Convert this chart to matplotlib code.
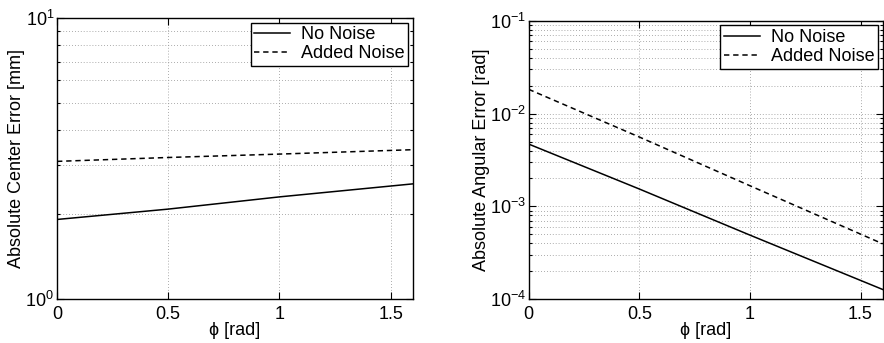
#!/usr/bin/env python3
"""Center and angular error versus phi, with and without added noise."""

import matplotlib as mpl
mpl.use("Agg")
import matplotlib.pyplot as plt
from matplotlib.ticker import LogLocator, NullFormatter

# values
PHI = [0.0, 0.5, 1.0, 1.6]
CENTER_NO_NOISE = [1.92, 2.09, 2.31, 2.57]
CENTER_NOISE = [3.09, 3.19, 3.28, 3.40]
ANGLE_NO_NOISE = [4.7e-3, 1.54e-3, 4.9e-4, 1.27e-4]
ANGLE_NOISE = [1.83e-2, 5.6e-3, 1.67e-3, 3.95e-4]
LABELS = ["No Noise", "Added Noise"]

plt.rcParams.update({
    "font.family": ["Liberation Sans", "DejaVu Sans"],
    "font.size": 13,
    "mathtext.fontset": "custom",
    "mathtext.rm": "Liberation Sans",
    "mathtext.it": "Liberation Sans:italic",
    "axes.linewidth": 1.0,
})

GRID_KW = dict(color="#909090", linestyle=(0, (1, 2.5)), linewidth=0.6)


def style_axes(ax, ylim, ylabel):
    ax.set_yscale("log")
    ax.set_xlim(0, 1.6)
    ax.set_ylim(*ylim)
    ax.set_xticks([0, 0.5, 1, 1.5])
    ax.set_xticklabels(["0", "0.5", "1", "1.5"])
    ax.yaxis.set_major_locator(LogLocator(base=10))
    ax.yaxis.set_minor_locator(LogLocator(base=10, subs=range(2, 10)))
    ax.yaxis.set_minor_formatter(NullFormatter())
    ax.tick_params(which="both", direction="in", top=True, right=True, width=0.8)
    ax.tick_params(which="major", length=5, labelsize=13)
    ax.tick_params(axis="x", which="major", pad=5)
    ax.tick_params(axis="y", which="major", pad=2)
    ax.tick_params(which="minor", length=2.5)
    ax.grid(True, which="major", axis="both", **GRID_KW)
    ax.grid(True, which="minor", axis="y", **GRID_KW)
    ax.set_ylabel(ylabel, labelpad=0)
    ax.set_xlabel("\u03d5 [rad]", labelpad=-1)
    leg = ax.legend(loc="upper right", handlelength=2.0, fancybox=False, framealpha=1,
                    edgecolor="black", borderaxespad=0.25, borderpad=0.2,
                    labelspacing=0.12, handletextpad=0.6, fontsize=13)
    leg.get_frame().set_linewidth(1.0)


fig = plt.figure(figsize=(8.84, 3.43), dpi=100, facecolor="white")
ax1 = fig.add_axes([0.0645, 0.128, 0.4025, 0.8195])
ax2 = fig.add_axes([0.598, 0.128, 0.4005, 0.811])

ax1.plot(PHI, CENTER_NO_NOISE, color="black", linewidth=1.1, linestyle="-", label=LABELS[0])
ax1.plot(PHI, CENTER_NOISE, color="black", linewidth=1.1, linestyle=(0, (3.5, 2.5)), label=LABELS[1])
style_axes(ax1, (1, 10), "Absolute Center Error [mm]")

ax2.plot(PHI, ANGLE_NO_NOISE, color="black", linewidth=1.1, linestyle="-", label=LABELS[0])
ax2.plot(PHI, ANGLE_NOISE, color="black", linewidth=1.1, linestyle=(0, (3.5, 2.5)), label=LABELS[1])
style_axes(ax2, (1e-4, 1e-1), "Absolute Angular Error [rad]")

fig.savefig("out.png", dpi=100)
